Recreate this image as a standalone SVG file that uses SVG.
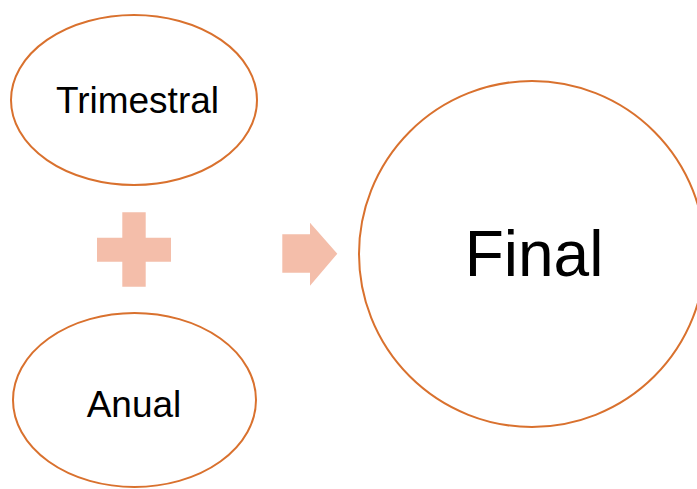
<svg xmlns="http://www.w3.org/2000/svg" width="697" height="489" viewBox="0 0 697 489">
<style>
.node{fill:#FFFFFF;stroke:#D9712E;stroke-width:2}
.lbl{font-family:"Liberation Sans",Arial,sans-serif;fill:#000000;text-anchor:middle}
.sym{fill:#F4BEAA;stroke:none}
</style>
<rect width="697" height="489" fill="#FFFFFF"/>
<g id="trimestral">
<ellipse class="node" cx="134" cy="100" rx="123" ry="85"/>
<text class="lbl" x="137.5" y="112.5" font-size="37">Trimestral</text>
</g>
<g id="anual">
<ellipse class="node" cx="134.5" cy="400" rx="121.5" ry="87"/>
<text class="lbl" x="134" y="416.5" font-size="37">Anual</text>
</g>
<g id="final">
<circle class="node" cx="532" cy="254" r="173"/>
<text class="lbl" x="534" y="276" font-size="64">Final</text>
</g>
<g id="connectors">
<path class="sym" d="M122.3,212.3H145.7V237.7H171V261.7H145.7V286.7H122.3V261.7H97V237.7H122.3Z"/>
<path class="sym" d="M282.3,234.3H310V222.7L337.3,253.7L310,285.7V272.7H282.3Z"/>
</g>
</svg>
